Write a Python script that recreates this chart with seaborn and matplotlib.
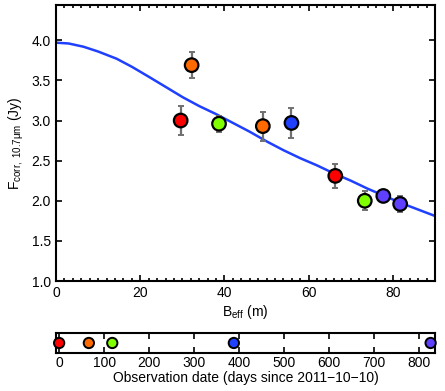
import numpy as np
import pandas as pd
import matplotlib
matplotlib.use('Agg')
import matplotlib.pyplot as plt
import seaborn as sns

# Дані: точки вимірювань
baseline = [29.6, 32.2, 38.7, 49.1, 55.9, 66.3, 73.3, 77.7, 81.7]
flux = [3.00, 3.69, 2.96, 2.93, 2.97, 2.31, 2.00, 2.06, 1.96]
flux_err = [0.18, 0.16, 0.10, 0.18, 0.19, 0.15, 0.12, 0.06, 0.10]
epoch = ['e0', 'e1', 'e2', 'e1', 'e3', 'e0', 'e2', 'e4', 'e4']

# Модельна крива
model_b = [0, 3, 6.5, 10, 14.4, 18, 22.2, 26, 30.1, 34, 38, 42, 46, 50,
           54, 58, 62, 66, 70, 74, 78, 82, 86, 90]
model_f = [3.97, 3.96, 3.92, 3.86, 3.77, 3.67, 3.54, 3.42, 3.29, 3.18, 3.08, 2.97,
           2.86, 2.74, 2.63, 2.53, 2.44, 2.34, 2.25, 2.15, 2.06, 1.97, 1.89, 1.81]

# Дати спостережень
epoch_names = ['e0', 'e1', 'e2', 'e3', 'e4']
epoch_days = [0, 66, 118, 388, 825]
epoch_colors = ['#ff0000', '#ff6a00', '#80ff00', '#2040ff', '#6040ff']

sns.set_style('ticks')
plt.rcParams['font.family'] = ['Liberation Sans', 'DejaVu Sans']
plt.rcParams['mathtext.fontset'] = 'custom'
plt.rcParams['mathtext.rm'] = 'Liberation Sans'
plt.rcParams['mathtext.it'] = 'Liberation Sans'
plt.rcParams['xtick.direction'] = 'in'
plt.rcParams['ytick.direction'] = 'in'
plt.rcParams['text.color'] = 'black'
plt.rcParams['axes.labelcolor'] = 'black'
plt.rcParams['xtick.color'] = 'black'
plt.rcParams['ytick.color'] = 'black'
plt.rcParams['axes.edgecolor'] = 'black'

palette = dict(zip(epoch_names, epoch_colors))
df = pd.DataFrame({'B': baseline, 'F': flux, 'err': flux_err, 'epoch': epoch})
df_model = pd.DataFrame({'B': model_b, 'F': model_f})
df_dates = pd.DataFrame({'day': epoch_days, 'epoch': epoch_names, 'y': [0] * 5})

fig = plt.figure(figsize=(4.45, 3.91), dpi=100)
ax = fig.add_axes([0.1258, 0.2813, 0.852, 0.706])
ax2 = fig.add_axes([0.1258, 0.0972, 0.852, 0.0512])

sns.lineplot(data=df_model, x='B', y='F', color='#2040ff', lw=1.8, ax=ax, zorder=2)
ax.errorbar(df['B'], df['F'], yerr=df['err'], fmt='none', ecolor='#707070',
            elinewidth=1.6, capsize=2, capthick=1.4, zorder=3)
sns.scatterplot(data=df, x='B', y='F', hue='epoch', palette=palette, s=95,
                edgecolor='black', linewidth=1.6, legend=False, ax=ax, zorder=4)

ax.set_xlim(0, 90)
ax.set_ylim(1.0, 4.44)
ax.set_xticks([0, 20, 40, 60, 80])
ax.set_xticks(np.arange(0, 91, 2), minor=True)
ax.set_yticks([1.0, 1.5, 2.0, 2.5, 3.0, 3.5, 4.0])
ax.set_yticklabels(['1.0', '1.5', '2.0', '2.5', '3.0', '3.5', '4.0'])
ax.tick_params(which='both', top=True, right=True, labelsize=10, width=1.2)
ax.tick_params(which='major', length=4)
ax.tick_params(which='minor', length=2)
ax.set_xlabel(r'B$_{\mathregular{eff}}$ (m)', fontsize=10, labelpad=2)
ax.set_ylabel(r'F$_{\mathregular{corr,\ 10.7\mu m}}$ (Jy)', fontsize=10, labelpad=4)
for sp in ax.spines.values():
    sp.set_linewidth(1.5)
    sp.set_visible(True)

sns.scatterplot(data=df_dates, x='day', y='y', hue='epoch', palette=palette, s=55,
                edgecolor='black', linewidth=1.4, legend=False, ax=ax2, zorder=4,
                clip_on=False)
ax2.set_xlim(-7, 835)
ax2.set_ylim(-1, 1)
ax2.set_yticks([])
ax2.set_xticks(np.arange(0, 801, 100))
ax2.tick_params(which='both', top=True, labelsize=10, width=1.2, length=4, pad=2)
ax2.set_xlabel('Observation date (days since 2011\u221210\u221210)', fontsize=10, labelpad=1)
ax2.set_ylabel('')
for sp in ax2.spines.values():
    sp.set_linewidth(1.5)
    sp.set_visible(True)

fig.savefig('out.png', dpi=100)
